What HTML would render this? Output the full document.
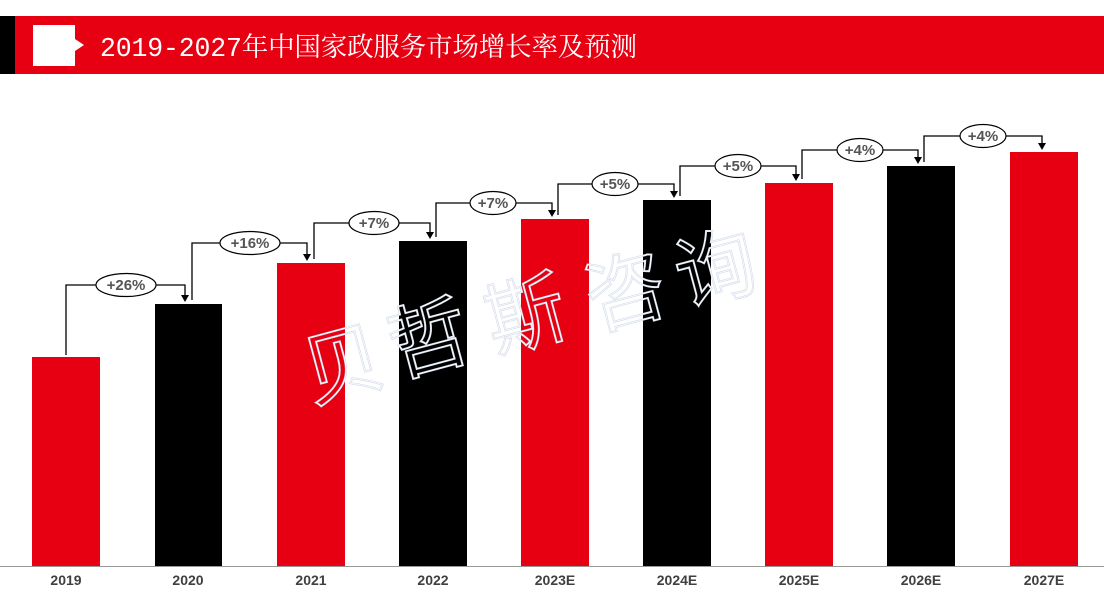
<!DOCTYPE html>
<html><head><meta charset="utf-8"><style>
html,body{margin:0;padding:0;background:#fff;}
body{width:1104px;height:599px;overflow:hidden;position:relative;font-family:"Liberation Sans","Noto Sans CJK SC",sans-serif;}
</style></head><body>
<svg width="1104" height="599" xmlns="http://www.w3.org/2000/svg" style="position:absolute;left:0;top:0">
<rect x="0" y="16" width="15" height="58" fill="#000"/>
<rect x="15" y="16" width="1089" height="58" fill="#e60012"/>
<polygon points="33,25 75,25 75,39 84,45 75,51 75,66 33,66" fill="#fff"/>
<text x="100" y="56" fill="#fff" font-size="26.5" font-family="'Liberation Mono','Noto Serif CJK SC',serif" textLength="537" lengthAdjust="spacing">2019-2027年中国家政服务市场增长率及预测</text>

<g>
<rect x="32" y="357" width="68" height="209" fill="#e60012"/>
<rect x="155" y="304" width="67" height="262" fill="#000"/>
<rect x="277" y="263" width="68" height="303" fill="#e60012"/>
<rect x="399" y="241" width="68" height="325" fill="#000"/>
<rect x="521" y="219" width="68" height="347" fill="#e60012"/>
<rect x="643" y="200" width="68" height="366" fill="#000"/>
<rect x="765" y="183" width="68" height="383" fill="#e60012"/>
<rect x="887" y="166" width="68" height="400" fill="#000"/>
<rect x="1010" y="152" width="68" height="414" fill="#e60012"/>
</g>
<line x1="0" y1="566.5" x2="1104" y2="566.5" stroke="#999" stroke-width="1"/>

<g font-family="'Liberation Sans Narrow','Liberation Sans',sans-serif" font-weight="bold" font-size="14" fill="#404040" text-anchor="middle">
<text x="66" y="585">2019</text><text x="188" y="585">2020</text><text x="311" y="585">2021</text>
<text x="433" y="585">2022</text><text x="555" y="585">2023E</text><text x="677" y="585">2024E</text>
<text x="799" y="585">2025E</text><text x="921" y="585">2026E</text><text x="1044" y="585">2027E</text>
</g>

<g stroke="#000" stroke-width="1.3" fill="none">
<path d="M66,355 V285 H185 V296"/>
<path d="M192,300 V243 H307 V255"/>
<path d="M314,259 V223 H430 V233"/>
<path d="M436,237 V203 H552 V211"/>
<path d="M558,215 V184 H674 V192"/>
<path d="M680,196 V166 H796 V175"/>
<path d="M802,179 V150 H918 V158"/>
<path d="M924,162 V136 H1042 V144"/>
</g>
<g fill="#000">
<polygon points="181,295 189,295 185,302"/>
<polygon points="303,254 311,254 307,261"/>
<polygon points="426,232 434,232 430,239"/>
<polygon points="548,210 556,210 552,217"/>
<polygon points="670,191 678,191 674,198"/>
<polygon points="792,174 800,174 796,181"/>
<polygon points="914,157 922,157 918,164"/>
<polygon points="1038,143 1046,143 1042,150"/>
</g>
<g stroke="#000" stroke-width="1.2" fill="#fff">
<ellipse cx="126" cy="285" rx="30" ry="11.5"/>
<ellipse cx="250" cy="243" rx="30" ry="11.5"/>
<ellipse cx="374" cy="223" rx="25" ry="11.5"/>
<ellipse cx="493" cy="203" rx="23" ry="11.5"/>
<ellipse cx="615" cy="184" rx="23" ry="11.5"/>
<ellipse cx="738" cy="166" rx="23" ry="11.5"/>
<ellipse cx="860" cy="150" rx="23" ry="11.5"/>
<ellipse cx="983" cy="136" rx="23" ry="11.5"/>
</g>
<g font-weight="bold" font-size="15" fill="#555" text-anchor="middle">
<text x="126" y="290">+26%</text><text x="250" y="248">+16%</text><text x="374" y="228">+7%</text>
<text x="493" y="208">+7%</text><text x="615" y="189">+5%</text><text x="738" y="171">+5%</text>
<text x="860" y="155">+4%</text><text x="983" y="141">+4%</text>
</g>

<g font-size="80" fill="none" stroke="#d2dae8" stroke-width="2" text-anchor="middle" font-family="'Noto Sans CJK SC',sans-serif">
<text transform="translate(350,392) rotate(-15)">贝</text>
<text transform="translate(436,366) rotate(-15)">哲</text>
<text transform="translate(533,342) rotate(-15)">斯</text>
<text transform="translate(633,319) rotate(-15)">咨</text>
<text transform="translate(723,296) rotate(-15)">询</text>
</g>
<g font-size="80" fill="none" stroke="#fff" stroke-width="0.7" text-anchor="middle" font-family="'Noto Sans CJK SC',sans-serif">
<text transform="translate(350,392) rotate(-15)">贝</text>
<text transform="translate(436,366) rotate(-15)">哲</text>
<text transform="translate(533,342) rotate(-15)">斯</text>
<text transform="translate(633,319) rotate(-15)">咨</text>
<text transform="translate(723,296) rotate(-15)">询</text>
</g>
</svg>
</body></html>
